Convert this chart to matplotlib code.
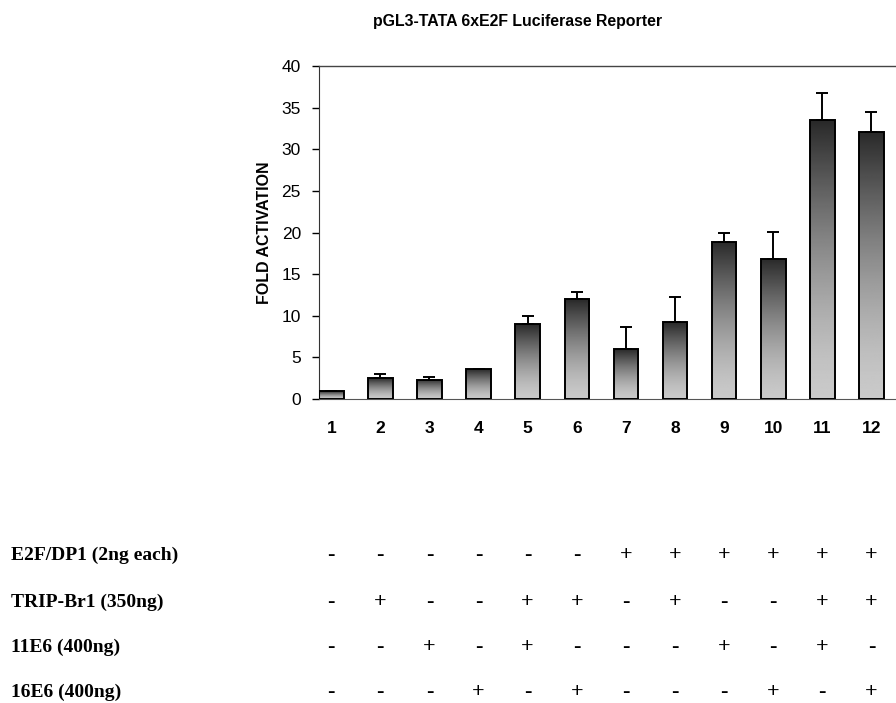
import matplotlib
matplotlib.use("Agg")
from matplotlib import pyplot as plt
import matplotlib.transforms as mtransforms
import numpy as np

# data
lanes = [1, 2, 3, 4, 5, 6, 7, 8, 9, 10, 11, 12]
fold = [0.95, 2.5, 2.3, 3.55, 9.0, 12.0, 6.0, 9.2, 18.9, 16.85, 33.5, 32.1]
err_up = [0.0, 0.5, 0.3, 0.1, 1.0, 0.8, 2.6, 3.1, 1.1, 3.25, 3.3, 2.4]

row_labels = ["E2F/DP1 (2ng each)", "TRIP-Br1 (350ng)", "11E6 (400ng)", "16E6 (400ng)"]
row_signs = [
    "------++++++",
    "-+--++-+--++",
    "--+-+---+-+-",
    "---+-+---+-+",
]

fig = plt.figure(figsize=(8.96, 7.03), dpi=100)
ax = fig.add_axes([0.356, 0.4324, 0.644, 0.4737])

bars = ax.bar(lanes, fold, width=0.5, facecolor="none", edgecolor="black",
              linewidth=1.4, zorder=3)

# gradient fill inside each bar: light at the bottom, dark at the top
t = np.linspace(0, 1, 256).reshape(-1, 1)
shade = 0.79 - 0.63 * t ** 1.5
for b in bars:
    x0, y0 = b.get_x(), b.get_y()
    w, h = b.get_width(), b.get_height()
    im = ax.imshow(shade, cmap="gray", vmin=0, vmax=1, origin="lower",
                   extent=[x0, x0 + w, y0, y0 + h], aspect="auto", zorder=2)
    im.set_clip_path(b)

ax.errorbar(lanes, fold, yerr=[np.zeros(len(fold)), err_up], fmt="none",
            ecolor="black", elinewidth=1.4, capsize=4, capthick=1.4, zorder=4)

ax.set_xlim(0.75, 12.5)
ax.set_ylim(0, 40)
ax.set_yticks(range(0, 41, 5))
ax.set_xticks(lanes)

ax.spines["right"].set_visible(False)
ax.spines["top"].set_color("#444444")
ax.spines["top"].set_linewidth(1.0)
ax.spines["bottom"].set_color("#555555")
ax.spines["left"].set_color("#333333")

ax.tick_params(axis="y", direction="out", length=5, width=1, pad=8,
               labelsize=12.5)
ax.tick_params(axis="x", length=0, pad=16, labelsize=12.5)
for lab in ax.get_yticklabels() + ax.get_xticklabels():
    lab.set_family("Liberation Sans")
for lab in ax.get_xticklabels():
    lab.set_fontweight("bold")

ax.set_ylabel("FOLD ACTIVATION", family="Liberation Sans", fontweight="bold",
              fontsize=11.5, labelpad=7)

fig.text(0.578, 0.969, "pGL3-TATA 6xE2F Luciferase Reporter",
         family="Liberation Sans", fontweight="bold", fontsize=11.4,
         ha="center", va="center")

# treatment table under the chart
row_y = [555, 602, 647, 692]
trans = mtransforms.blended_transform_factory(ax.transData, fig.transFigure)
for label, signs, ypx in zip(row_labels, row_signs, row_y):
    yf = 1 - ypx / 703.0
    fig.text(11 / 896.0, yf, label, family="Liberation Serif",
             fontweight="bold", fontsize=14, ha="left", va="center")
    for lane, s in zip(lanes, signs):
        ax.text(lane, yf, s, transform=trans, family="Liberation Serif",
                fontweight="bold", fontsize=16, ha="center", va="center",
                clip_on=False)

fig.savefig("out.png", dpi=100)
